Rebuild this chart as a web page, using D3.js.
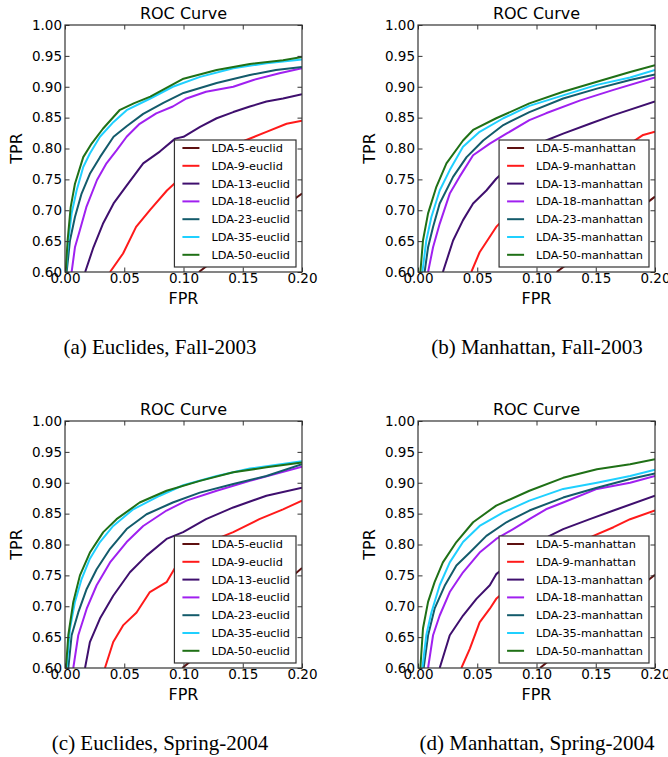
<!DOCTYPE html>
<html>
<head>
<meta charset="utf-8">
<script src="https://cdn.jsdelivr.net/npm/d3@7"></script>
<style>
  body { margin: 0; background: #fff; }
  svg text { font-family: "DejaVu Sans", sans-serif; fill: #000; }
  svg text.caption { font-family: "Liberation Serif", "Times New Roman", serif; }
</style>
</head>
<body>
<svg id="chart"></svg>
<script>
// ROC curves, LDA + distancia euclidiana / manhattan
const svg_w = 668;
const svg_h = 757;

// dimensiones LDA de cada curva
const ldaDims = [5, 9, 13, 18, 23, 35, 50];
const seriesColors = ["#5e1010", "#ff1a1a", "#3f0f6e", "#a020f0", "#135b6b", "#1fd0ff", "#1f7016"];

const xTicks = [0.00, 0.05, 0.10, 0.15, 0.20];
const yTicks = [0.60, 0.65, 0.70, 0.75, 0.80, 0.85, 0.90, 0.95, 1.00];

const metrics = ["euclid", "manhattan", "euclid", "manhattan"];
const captions = ["(a) Euclides, Fall-2003", "(b) Manhattan, Fall-2003",
                  "(c) Euclides, Spring-2004", "(d) Manhattan, Spring-2004"];

// puntos [FPR, TPR], una lista por curva (LDA-5 ... LDA-50)
const euclidFall2003 = [
  [[0.113,0.600],[0.130,0.625],[0.150,0.655],[0.170,0.685],[0.200,0.727]],
  [[0.038,0.600],[0.049,0.630],[0.060,0.673],[0.072,0.701],[0.086,0.732],[0.094,0.746],[0.110,0.770],[0.130,0.795],[0.152,0.813],[0.170,0.827],[0.187,0.840],[0.200,0.845]],
  [[0.017,0.600],[0.024,0.640],[0.032,0.678],[0.041,0.711],[0.052,0.740],[0.066,0.776],[0.080,0.795],[0.093,0.816],[0.100,0.819],[0.114,0.835],[0.128,0.849],[0.142,0.859],[0.156,0.868],[0.170,0.876],[0.184,0.881],[0.200,0.888]],
  [[0.0056,0.600],[0.0084,0.640],[0.0126,0.668],[0.018,0.705],[0.027,0.749],[0.035,0.776],[0.0435,0.797],[0.052,0.819],[0.063,0.840],[0.077,0.857],[0.091,0.868],[0.1025,0.881],[0.119,0.892],[0.142,0.900],[0.159,0.911],[0.181,0.922],[0.200,0.930]],
  [[0.0014,0.600],[0.0042,0.651],[0.0084,0.689],[0.014,0.727],[0.021,0.759],[0.0295,0.786],[0.041,0.819],[0.052,0.836],[0.066,0.856],[0.083,0.874],[0.100,0.890],[0.128,0.906],[0.156,0.919],[0.178,0.927],[0.200,0.932]],
  [[0.0008,0.600],[0.0028,0.651],[0.0056,0.695],[0.0098,0.732],[0.0154,0.770],[0.021,0.792],[0.0295,0.819],[0.041,0.843],[0.052,0.862],[0.072,0.881],[0.091,0.900],[0.114,0.916],[0.142,0.930],[0.170,0.938],[0.200,0.944]],
  [[0.0006,0.600],[0.0022,0.651],[0.0048,0.705],[0.0084,0.743],[0.0154,0.786],[0.0225,0.808],[0.032,0.832],[0.046,0.862],[0.058,0.873],[0.072,0.884],[0.100,0.913],[0.128,0.927],[0.156,0.937],[0.184,0.943],[0.200,0.948]]
];

const manhattanFall2003 = [
  [[0.117,0.600],[0.140,0.633],[0.170,0.678],[0.200,0.722]],
  [[0.045,0.600],[0.052,0.632],[0.0606,0.657],[0.066,0.673],[0.090,0.720],[0.120,0.765],[0.150,0.790],[0.179,0.808],[0.190,0.822],[0.200,0.827]],
  [[0.021,0.600],[0.0296,0.651],[0.038,0.684],[0.0465,0.711],[0.0577,0.732],[0.066,0.751],[0.085,0.785],[0.108,0.813],[0.1225,0.824],[0.145,0.840],[0.165,0.854],[0.200,0.876]],
  [[0.0085,0.600],[0.0127,0.640],[0.0183,0.678],[0.0268,0.727],[0.035,0.754],[0.0465,0.789],[0.0606,0.808],[0.0746,0.824],[0.094,0.846],[0.108,0.857],[0.137,0.878],[0.165,0.895],[0.200,0.915]],
  [[0.0056,0.600],[0.0085,0.640],[0.0127,0.673],[0.0183,0.711],[0.0296,0.754],[0.041,0.786],[0.055,0.813],[0.072,0.838],[0.094,0.859],[0.1225,0.881],[0.151,0.897],[0.179,0.911],[0.200,0.920]],
  [[0.0037,0.600],[0.007,0.651],[0.0113,0.689],[0.0183,0.732],[0.0268,0.765],[0.038,0.803],[0.052,0.827],[0.072,0.849],[0.094,0.869],[0.1225,0.886],[0.151,0.903],[0.179,0.915],[0.200,0.927]],
  [[0.002,0.600],[0.0042,0.651],[0.0085,0.695],[0.0155,0.738],[0.024,0.776],[0.038,0.813],[0.0465,0.830],[0.066,0.849],[0.094,0.873],[0.1225,0.892],[0.151,0.908],[0.179,0.924],[0.200,0.935]]
];

const euclidSpring2004 = [
  [[0.099,0.600],[0.150,0.680],[0.200,0.762]],
  [[0.0337,0.600],[0.0407,0.642],[0.049,0.669],[0.0604,0.690],[0.0716,0.723],[0.0857,0.739],[0.094,0.766],[0.110,0.790],[0.128,0.809],[0.142,0.820],[0.164,0.841],[0.184,0.857],[0.200,0.871]],
  [[0.0169,0.600],[0.021,0.642],[0.0295,0.680],[0.0407,0.717],[0.0548,0.755],[0.0688,0.782],[0.0857,0.809],[0.0997,0.820],[0.119,0.841],[0.142,0.860],[0.170,0.879],[0.200,0.892]],
  [[0.007,0.600],[0.0112,0.653],[0.0183,0.696],[0.0267,0.734],[0.038,0.771],[0.052,0.804],[0.066,0.830],[0.0857,0.855],[0.1025,0.871],[0.128,0.887],[0.156,0.903],[0.200,0.926]],
  [[0.0028,0.600],[0.0056,0.653],[0.0112,0.690],[0.0183,0.728],[0.0267,0.760],[0.038,0.793],[0.052,0.825],[0.0688,0.849],[0.091,0.868],[0.1138,0.884],[0.142,0.898],[0.170,0.911],[0.200,0.930]],
  [[0.0014,0.600],[0.0042,0.664],[0.0084,0.707],[0.014,0.744],[0.021,0.777],[0.0295,0.804],[0.0407,0.830],[0.0576,0.857],[0.080,0.879],[0.0997,0.896],[0.128,0.911],[0.156,0.923],[0.200,0.935]],
  [[0.0008,0.600],[0.0028,0.653],[0.007,0.707],[0.0126,0.750],[0.021,0.787],[0.0323,0.820],[0.0435,0.841],[0.063,0.868],[0.0857,0.887],[0.1138,0.903],[0.142,0.917],[0.170,0.925],[0.200,0.933]]
];

const manhattanSpring2004 = [
  [[0.103,0.600],[0.150,0.675],[0.200,0.751]],
  [[0.0366,0.600],[0.0437,0.631],[0.052,0.674],[0.0606,0.696],[0.066,0.712],[0.090,0.752],[0.120,0.787],[0.148,0.814],[0.165,0.828],[0.179,0.841],[0.200,0.855]],
  [[0.0183,0.600],[0.0268,0.653],[0.038,0.685],[0.0493,0.712],[0.0606,0.734],[0.066,0.752],[0.090,0.788],[0.111,0.814],[0.1225,0.825],[0.145,0.841],[0.165,0.855],[0.200,0.879]],
  [[0.0085,0.600],[0.0127,0.653],[0.0183,0.685],[0.0268,0.723],[0.038,0.755],[0.052,0.787],[0.066,0.809],[0.0803,0.825],[0.094,0.841],[0.108,0.857],[0.1225,0.868],[0.151,0.890],[0.179,0.900],[0.200,0.911]],
  [[0.0048,0.600],[0.0085,0.653],[0.014,0.696],[0.0225,0.733],[0.0324,0.766],[0.0437,0.787],[0.0577,0.814],[0.0746,0.836],[0.094,0.855],[0.1225,0.876],[0.151,0.892],[0.179,0.906],[0.200,0.915]],
  [[0.0037,0.600],[0.007,0.653],[0.0113,0.690],[0.0183,0.734],[0.0268,0.771],[0.038,0.804],[0.052,0.830],[0.072,0.852],[0.094,0.871],[0.1225,0.890],[0.151,0.900],[0.179,0.911],[0.200,0.921]],
  [[0.002,0.600],[0.0042,0.664],[0.0085,0.707],[0.014,0.739],[0.021,0.771],[0.0324,0.804],[0.0465,0.836],[0.066,0.863],[0.094,0.887],[0.1225,0.908],[0.151,0.922],[0.179,0.930],[0.200,0.938]]
];

const panelData = [euclidFall2003, manhattanFall2003, euclidSpring2004, manhattanSpring2004];

// posicion del area de cada grafica
const plot_w = 237;
const plot_h = 247;
const panelPos = [{l:65,t:25},{l:418,t:25},{l:65,t:421},{l:418,t:421}];
const captionX = [160, 537, 160, 537];

let svg = d3.select("#chart")
  .attr("width", svg_w)
  .attr("height", svg_h);

panelData.forEach((curves, i) => draw_panel(curves, i));

function draw_panel(curves, i) {
  const pos = panelPos[i];
  let g = svg.append("g")
    .attr("transform", `translate(${pos.l},${pos.t})`);

  let x_scale = d3.scaleLinear().domain([0, 0.2]).range([0, plot_w]);
  let y_scale = d3.scaleLinear().domain([0.6, 1.0]).range([plot_h, 0]);

  const clipId = `clip${i}`;
  g.append("clipPath").attr("id", clipId)
    .append("rect").attr("width", plot_w).attr("height", plot_h);

  let line = d3.line()
    .x(d => x_scale(d[0]))
    .y(d => y_scale(d[1]));

  g.append("g")
    .attr("clip-path", `url(#${clipId})`)
    .selectAll("path")
    .data(curves)
    .enter().append("path")
    .attr("d", d => line(d))
    .attr("fill", "none")
    .attr("stroke", (d, k) => seriesColors[k])
    .attr("stroke-width", 2)
    .attr("stroke-linejoin", "round");

  // ejes estilo matplotlib clasico: ticks hacia adentro en los cuatro lados
  const tickLen = 4.5;
  let bottom = g.append("g").attr("transform", `translate(0,${plot_h})`)
    .call(d3.axisBottom(x_scale).tickValues(xTicks).tickSize(-tickLen).tickPadding(1.5).tickFormat(d3.format(".2f")));
  let top = g.append("g")
    .call(d3.axisTop(x_scale).tickValues(xTicks).tickSize(-tickLen).tickFormat(""));
  let left = g.append("g")
    .call(d3.axisLeft(y_scale).tickValues(yTicks).tickSize(-tickLen).tickPadding(3).tickFormat(d3.format(".2f")));
  let right = g.append("g").attr("transform", `translate(${plot_w},0)`)
    .call(d3.axisRight(y_scale).tickValues(yTicks).tickSize(-tickLen).tickFormat(""));
  [bottom, top, left, right].forEach(a => {
    a.select(".domain").remove();
    a.selectAll("line").attr("stroke", "#333");
    a.selectAll("text").attr("font-size", 13.5).attr("font-family", "DejaVu Sans, sans-serif").attr("fill", "#000");
  });

  g.append("rect")
    .attr("width", plot_w)
    .attr("height", plot_h)
    .attr("fill", "none")
    .attr("stroke", "#333")
    .attr("stroke-width", 1.2);

  g.append("text")
    .attr("x", plot_w / 2).attr("y", -6)
    .attr("text-anchor", "middle")
    .attr("font-size", 16)
    .text("ROC Curve");

  g.append("text")
    .attr("x", plot_w / 2).attr("y", plot_h + 32)
    .attr("text-anchor", "middle")
    .attr("font-size", 16)
    .text("FPR");

  g.append("text")
    .attr("transform", `translate(-43,${plot_h / 2}) rotate(-90)`)
    .attr("text-anchor", "middle")
    .attr("font-size", 16)
    .text("TPR");

  // leyenda, esquina inferior derecha
  let labels = ldaDims.map(d => `LDA-${d}-${metrics[i]}`);
  let leg = g.append("g");
  let box = leg.append("rect")
    .attr("fill", "#fff")
    .attr("stroke", "#333")
    .attr("stroke-width", 1.2);
  let rows = leg.selectAll("g.row")
    .data(labels)
    .enter().append("g")
    .attr("class", "row")
    .attr("transform", (d, k) => `translate(0,${8 + k * 17.8})`);
  rows.append("line")
    .attr("x1", 8).attr("x2", 25)
    .attr("stroke", (d, k) => seriesColors[k])
    .attr("stroke-width", 2);
  rows.append("text")
    .attr("x", 37).attr("y", 4)
    .attr("font-size", 11.3)
    .text(d => d);
  let maxW = d3.max(rows.selectAll("text").nodes(), n => n.getComputedTextLength());
  const legW = 37 + maxW + 6;
  const legH = 127;
  box.attr("width", legW).attr("height", legH);
  leg.attr("transform", `translate(${plot_w - 6 - legW},${plot_h - 5 - legH})`);

  svg.append("text")
    .attr("class", "caption")
    .attr("x", captionX[i])
    .attr("y", pos.t + 329)
    .attr("text-anchor", "middle")
    .attr("font-size", 21)
    .text(captions[i]);
}
</script>
</body>
</html>
